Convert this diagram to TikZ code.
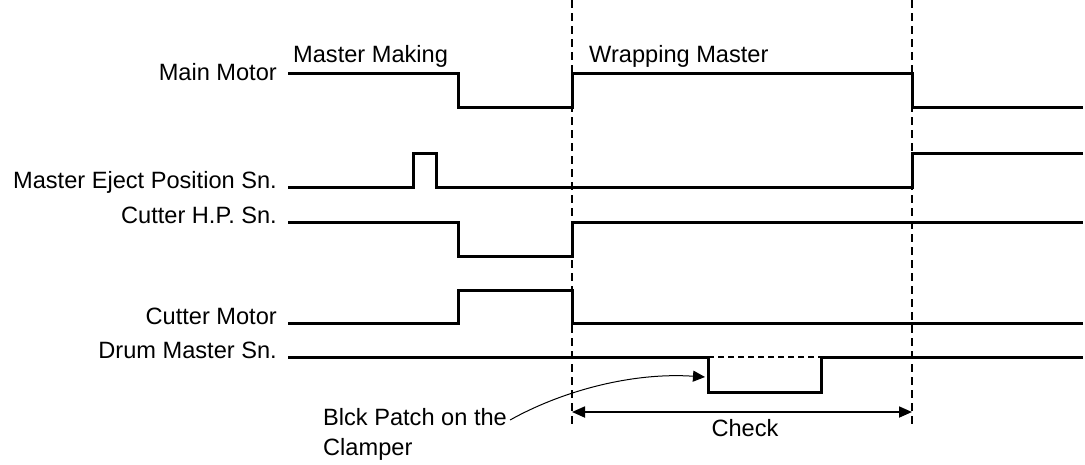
\documentclass[tikz,border=0pt]{standalone}
\usepackage{fontspec}
\setmainfont{Liberation Sans}
\usetikzlibrary{arrows.meta}

\begin{document}
\begin{tikzpicture}[
  x=1pt, y=-1pt,
  lbl/.style={anchor=base east, inner sep=0pt, font=\fontsize{23.6}{30}\selectfont},
  phasetxt/.style={anchor=base west, inner sep=0pt, font=\fontsize{23.6}{30}\selectfont},
  sig/.style={line width=3pt, line join=miter},
  phase/.style={line width=1.8pt, dash pattern=on 8pt off 5pt},
  >={Triangle[length=13pt, width=11pt]}
]
\useasboundingbox (0,0) rectangle (1085,464);

\node[lbl] (mm) at (277,80) {Main Motor};
\node[lbl] (mep) at (277,188) {Master Eject Position Sn.};
\node[lbl] (chp) at (277,223) {Cutter H.P. Sn.};
\node[lbl] (cm) at (277,324) {Cutter Motor};
\node[lbl] (dms) at (277,358) {Drum Master Sn.};

\node[phasetxt] (making) at (293,62) {Master Making};
\node[phasetxt] (wrapping) at (589,62) {Wrapping Master};

\coordinate (p1top) at (572,0);
\coordinate (p1bot) at (572,428);
\coordinate (p2top) at (912,0);
\coordinate (p2bot) at (912,428);
\draw[phase] (p1top) -- (p1bot);
\draw[phase] (p2top) -- (p2bot);

\draw[sig] (288,73) -- (458,73) -- (458,107) -- (572,107) -- (572,73) -- (912,73) -- (912,107) -- (1083,107);
\draw[sig] (288,187) -- (413,187) -- (413,153) -- (436,153) -- (436,187) -- (912,187) -- (912,153) -- (1083,153);
\draw[sig] (288,222) -- (458,222) -- (458,256) -- (572,256) -- (572,222) -- (1083,222);
\draw[sig] (288,323) -- (458,323) -- (458,290) -- (572,290) -- (572,323) -- (1083,323);
\draw[sig] (288,357) -- (708,357) -- (708,392) -- (821,392) -- (821,357) -- (1083,357);
\draw[line width=1.6pt, dash pattern=on 6pt off 4pt] (708,357) -- (821,357);

\coordinate (ck1) at (572,412);
\coordinate (ck2) at (912,412);
\draw[<->, line width=1.8pt] (ck1) -- (ck2);
\node[anchor=base, inner sep=0pt, font=\fontsize{23.6}{30}\selectfont] (check) at (745,436) {Check};

\node[anchor=north west, inner sep=0pt, align=left, font=\fontsize{23.6}{30}\selectfont] (blk) at (323,408) {Blck Patch on the\\Clamper};
\coordinate (patch) at (705,377);
\draw[->, line width=1pt, >={Triangle[length=12pt, width=11pt]}] ([xshift=3pt, yshift=-12pt]blk.north east) .. controls (560,392) and (630,372) .. (patch);
\end{tikzpicture}
\end{document}
